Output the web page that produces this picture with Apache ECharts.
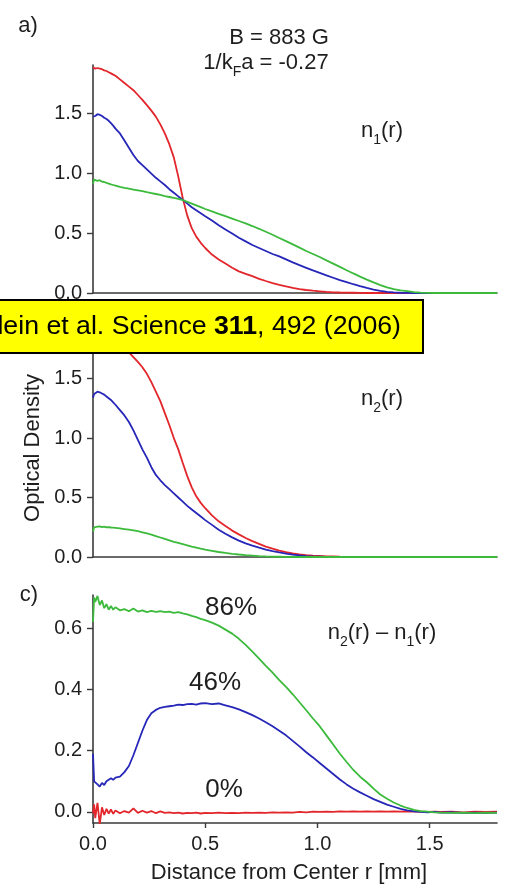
<!DOCTYPE html>
<html>
<head>
<meta charset="utf-8">
<script src="https://cdn.jsdelivr.net/npm/echarts@6/dist/echarts.min.js"></script>
<style>
  html, body { margin: 0; padding: 0; background: #ffffff; }
  #chart { width: 509px; height: 892px; }
</style>
</head>
<body>
<div id="chart"></div>
<script>
// Radial position from the cloud centre, in mm (shared by every profile)
const radius = [
  0, 0.005, 0.01, 0.02, 0.03, 0.04, 0.05, 0.06, 0.07, 0.08, 0.09, 0.10,
  0.12, 0.14, 0.16, 0.18, 0.20, 0.22, 0.24, 0.26, 0.28, 0.30,
  0.32, 0.34, 0.36, 0.38, 0.40, 0.42, 0.44, 0.46, 0.48, 0.50,
  0.53, 0.56, 0.59, 0.62, 0.65, 0.68, 0.71, 0.74, 0.77, 0.80,
  0.83, 0.86, 0.89, 0.92, 0.95, 0.98, 1.01, 1.04, 1.07, 1.10,
  1.13, 1.16, 1.19, 1.22, 1.25, 1.28, 1.31, 1.34, 1.37, 1.40,
  1.43, 1.46, 1.49, 1.52, 1.55, 1.60, 1.65, 1.70, 1.75, 1.80
];

// a) n1(r) optical density
const n1Red = [
  1.88, 1.89, 1.87, 1.875, 1.87, 1.865, 1.855, 1.85, 1.84, 1.83, 1.82, 1.81,
  1.78, 1.75, 1.72, 1.69, 1.65, 1.61, 1.565, 1.52, 1.47, 1.405,
  1.33, 1.24, 1.13, 0.97, 0.79, 0.645, 0.54, 0.47, 0.418, 0.375,
  0.32, 0.28, 0.245, 0.21, 0.18, 0.16, 0.14, 0.118, 0.10, 0.083,
  0.068, 0.055, 0.043, 0.033, 0.025, 0.019, 0.014, 0.009, 0.006, 0.004,
  0.003, 0.002, 0.001, 0, 0, 0, 0, 0, 0, 0,
  0, 0, 0, 0, 0, 0, 0, 0, 0, 0
];
const n1Blue = [
  1.47, 1.48, 1.475, 1.49, 1.485, 1.475, 1.46, 1.45, 1.435, 1.415, 1.395, 1.37,
  1.33, 1.27, 1.21, 1.15, 1.10, 1.065, 1.03, 0.995, 0.96, 0.93,
  0.90, 0.865, 0.835, 0.805, 0.778, 0.745, 0.715, 0.69, 0.665, 0.64,
  0.605, 0.565, 0.53, 0.495, 0.46, 0.43, 0.40, 0.375, 0.35, 0.325,
  0.305, 0.28, 0.255, 0.232, 0.21, 0.188, 0.168, 0.147, 0.127, 0.107,
  0.09, 0.073, 0.057, 0.042, 0.029, 0.018, 0.01, 0.005, 0.002, 0.001,
  0, 0, 0, 0, 0, 0, 0, 0, 0, 0
];
const n1Green = [
  0.91, 0.945, 0.95, 0.935, 0.94, 0.928, 0.925, 0.918, 0.912, 0.905, 0.9, 0.895,
  0.884, 0.876, 0.869, 0.862, 0.855, 0.848, 0.84, 0.833, 0.825, 0.817,
  0.808, 0.80, 0.792, 0.784, 0.775, 0.76, 0.745, 0.73, 0.715, 0.70,
  0.68, 0.66, 0.64, 0.62, 0.60, 0.58, 0.558, 0.535, 0.51, 0.485,
  0.458, 0.432, 0.405, 0.378, 0.35, 0.325, 0.30, 0.272, 0.245, 0.218,
  0.19, 0.163, 0.137, 0.112, 0.088, 0.066, 0.047, 0.032, 0.021, 0.015,
  0.008, 0.003, 0.001, 0, 0, 0, 0, 0, 0, 0
];

// b) n2(r) optical density
const n2Red = [
  1.87, 1.88, 1.87, 1.875, 1.865, 1.86, 1.85, 1.845, 1.835, 1.825, 1.815, 1.805,
  1.77, 1.745, 1.72, 1.68, 1.64, 1.595, 1.54, 1.47, 1.39, 1.31,
  1.21, 1.11, 1.00, 0.905, 0.79, 0.68, 0.585, 0.51, 0.455, 0.41,
  0.35, 0.30, 0.26, 0.222, 0.19, 0.16, 0.133, 0.11, 0.087, 0.07,
  0.054, 0.04, 0.03, 0.022, 0.016, 0.012, 0.009, 0.006, 0.004, 0.002,
  0.001, 0, 0, 0, 0, 0, 0, 0, 0, 0,
  0, 0, 0, 0, 0, 0, 0, 0, 0, 0
];
const n2Blue = [
  1.34, 1.37, 1.385, 1.39, 1.385, 1.375, 1.365, 1.35, 1.335, 1.32, 1.30, 1.28,
  1.235, 1.19, 1.135, 1.065, 0.985, 0.905, 0.835, 0.755, 0.69, 0.645,
  0.605, 0.57, 0.535, 0.50, 0.465, 0.43, 0.40, 0.37, 0.34, 0.31,
  0.27, 0.23, 0.195, 0.165, 0.138, 0.115, 0.095, 0.078, 0.063, 0.05,
  0.038, 0.028, 0.02, 0.013, 0.008, 0.005, 0.003, 0.001, 0, 0,
  0, 0, 0, 0, 0, 0, 0, 0, 0, 0,
  0, 0, 0, 0, 0, 0, 0, 0, 0, 0
];
const n2Green = [
  0.215, 0.25, 0.258, 0.255, 0.258, 0.252, 0.255, 0.25, 0.252, 0.248, 0.247, 0.245,
  0.24, 0.235, 0.23, 0.224, 0.217, 0.208, 0.198, 0.188, 0.176, 0.164,
  0.152, 0.14, 0.128, 0.118, 0.108, 0.098, 0.088, 0.079, 0.07, 0.062,
  0.052, 0.042, 0.034, 0.027, 0.021, 0.016, 0.012, 0.008, 0.005, 0.003,
  0.002, 0.001, 0, 0, 0, 0, 0, 0, 0, 0,
  0, 0, 0, 0, 0, 0, 0, 0, 0, 0,
  0, 0, 0, 0, 0, 0, 0, 0, 0, 0
];

// c) difference profile n2(r) - n1(r)
const diffRed = [
  -0.005, 0.025, -0.02, 0.03, -0.04, 0.015, -0.01, 0.01, -0.005, 0.008, -0.006, 0.005,
  -0.004, 0.003, -0.002, 0.012, -0.003, 0.004, -0.002, 0.003, -0.004, 0.002,
  -0.003, -0.001, -0.004, -0.002, -0.005, -0.003, -0.004, -0.002, -0.005, -0.003,
  -0.004, -0.002, -0.004, -0.003, -0.004, -0.002, -0.003, -0.002, -0.003, -0.001,
  -0.002, -0.001, -0.002, 0, -0.001, 0.001, 0, 0.001, 0, 0.002,
  0.001, 0.002, 0.001, 0.002, 0.001, 0.002, 0.001, 0.002, 0.001, 0.002,
  0.001, 0.001, 0, 0.001, 0, 0.001, -0.001, 0.001, 0, 0.001
];
const diffBlue = [
  0.19, 0.10, 0.095, 0.09, 0.083, 0.095, 0.088, 0.10, 0.105, 0.11, 0.105, 0.112,
  0.115, 0.13, 0.15, 0.185, 0.225, 0.265, 0.30, 0.322, 0.333, 0.34,
  0.343, 0.345, 0.347, 0.35, 0.349, 0.352, 0.353, 0.35, 0.354, 0.355,
  0.352, 0.354, 0.348, 0.342, 0.335, 0.326, 0.316, 0.305, 0.293, 0.28,
  0.265, 0.25, 0.232, 0.214, 0.195, 0.178, 0.16, 0.142, 0.124, 0.106,
  0.09, 0.076, 0.064, 0.053, 0.042, 0.033, 0.024, 0.017, 0.01, 0.005,
  0.002, 0, -0.001, 0, -0.002, -0.001, -0.003, -0.002, -0.003, -0.002
];
const diffGreen = [
  0.62, 0.70, 0.685, 0.705, 0.675, 0.69, 0.665, 0.678, 0.66, 0.672, 0.66, 0.668,
  0.658, 0.662, 0.655, 0.664, 0.654, 0.658, 0.652, 0.656, 0.653, 0.655,
  0.652, 0.654, 0.65, 0.652, 0.648, 0.645, 0.64, 0.636, 0.63, 0.626,
  0.618, 0.608, 0.595, 0.582, 0.565, 0.545, 0.523, 0.50, 0.477, 0.455,
  0.43, 0.408, 0.384, 0.358, 0.332, 0.305, 0.28, 0.25, 0.22, 0.19,
  0.163, 0.137, 0.115, 0.097, 0.076, 0.057, 0.043, 0.031, 0.021, 0.013,
  0.007, 0.003, 0.001, -0.001, -0.002, -0.003, -0.002, -0.004, -0.002, -0.003
];

// Tick positions
const densityTicks = [0, 0.5, 1.0, 1.5];
const diffTicks = [0, 0.2, 0.4, 0.6];
const radiusTicks = [0, 0.5, 1.0, 1.5];

const FONT = '"Liberation Sans", Arial, Helvetica, sans-serif';
const INK = '#1e1e1e';
const AXIS = '#3a3a3a';
const RED = '#e2262b';
const BLUE = '#2626b8';
const GREEN = '#3cba3c';

const pairs = vals => radius.map((r, i) => [r, vals[i]]);

function makeX(gridIndex, withLabels) {
  return {
    type: 'value', gridIndex, min: 0, max: 1.8,
    axisLine: { show: true, onZero: false, lineStyle: { color: AXIS, width: 1.6 } },
    axisTick: { show: withLabels, length: 5, customValues: radiusTicks, lineStyle: { color: AXIS, width: 1.4 } },
    axisLabel: { show: withLabels, customValues: radiusTicks, margin: 11, fontSize: 20, fontFamily: FONT, color: INK,
                 formatter: v => v.toFixed(1) },
    splitLine: { show: false }
  };
}
function makeY(gridIndex, min, max, ticks) {
  return {
    type: 'value', gridIndex, min, max,
    axisLine: { show: true, onZero: false, lineStyle: { color: AXIS, width: 1.6 } },
    axisTick: { show: true, length: 6, customValues: ticks, lineStyle: { color: AXIS, width: 1.4 } },
    axisLabel: { customValues: ticks, margin: 11, fontSize: 20, fontFamily: FONT, color: INK,
                 formatter: v => v.toFixed(1) },
    splitLine: { show: false }
  };
}
function makeLine(idx, vals, color) {
  return {
    type: 'line', xAxisIndex: idx, yAxisIndex: idx, data: pairs(vals),
    showSymbol: false, symbol: 'none', clip: true,
    lineStyle: { color, width: 1.8 }, itemStyle: { color }
  };
}

const richMain = { fontSize: 22, fontFamily: FONT, fill: INK, lineHeight: 32 };
const richSub = { fontSize: 14, fontFamily: FONT, fill: INK, verticalAlign: 'bottom' };
function label(x, y, text, size, extra) {
  return Object.assign({
    type: 'text', x, y, z: 100,
    style: { text, fontSize: size, fontFamily: FONT, fill: INK, align: 'center', verticalAlign: 'middle' }
  }, extra || {});
}
function subLabel(x, y, text) {
  return {
    type: 'text', x, y, z: 100,
    style: { text, rich: { m: richMain, s: richSub }, align: 'center', verticalAlign: 'middle' }
  };
}

const chart = echarts.init(document.getElementById('chart'), null, { renderer: 'canvas' });
chart.setOption({
  animation: false,
  backgroundColor: '#ffffff',
  grid: [
    { left: 93, right: 12, top: 65, height: 228 },
    { left: 93, right: 12, top: 331, height: 226 },
    { left: 93, right: 12, top: 595, height: 228 }
  ],
  xAxis: [makeX(0, false), makeX(1, false), makeX(2, true)],
  yAxis: [
    makeY(0, 0, 1.9, densityTicks),
    makeY(1, 0, 1.9, densityTicks),
    makeY(2, -0.036, 0.708, diffTicks)
  ],
  series: [
    makeLine(0, n1Red, RED), makeLine(0, n1Blue, BLUE), makeLine(0, n1Green, GREEN),
    makeLine(1, n2Red, RED), makeLine(1, n2Blue, BLUE), makeLine(1, n2Green, GREEN),
    makeLine(2, diffRed, RED), makeLine(2, diffBlue, BLUE), makeLine(2, diffGreen, GREEN)
  ],
  graphic: [
    label(28, 26, 'a)', 22),
    label(279, 38, 'B = 883 G', 22),
    subLabel(266, 63, '{m|1/k}{s|F}{m|a = -0.27}'),
    subLabel(382, 131, '{m|n}{s|1}{m|(r)}'),
    subLabel(382, 399, '{m|n}{s|2}{m|(r)}'),
    label(29, 595, 'c)', 22),
    subLabel(382, 633, '{m|n}{s|2}{m|(r) \u2013 n}{s|1}{m|(r)}'),
    label(231, 608, '86%', 26),
    label(215, 683, '46%', 26),
    label(224, 790, '0%', 26),
    label(33, 448, 'Optical Density', 22, { rotation: Math.PI / 2 }),
    label(289, 873, 'Distance from Center r [mm]', 22),
    // citation banner over the top of panel b
    {
      type: 'rect', z: 100,
      shape: { x: -4, y: 300, width: 427, height: 53 },
      style: { fill: '#ffff00', stroke: '#000000', lineWidth: 2 }
    },
    {
      type: 'text', x: 401, y: 327, z: 101,
      style: {
        text: '{r|Zwierlein et al. Science }{b|311}{r|, 492 (2006)}',
        rich: {
          r: { fontSize: 26.7, fontFamily: FONT, fill: '#000000' },
          b: { fontSize: 26.7, fontFamily: FONT, fontWeight: 'bold', fill: '#000000' }
        },
        align: 'right', verticalAlign: 'middle'
      }
    }
  ]
});
</script>
</body>
</html>
